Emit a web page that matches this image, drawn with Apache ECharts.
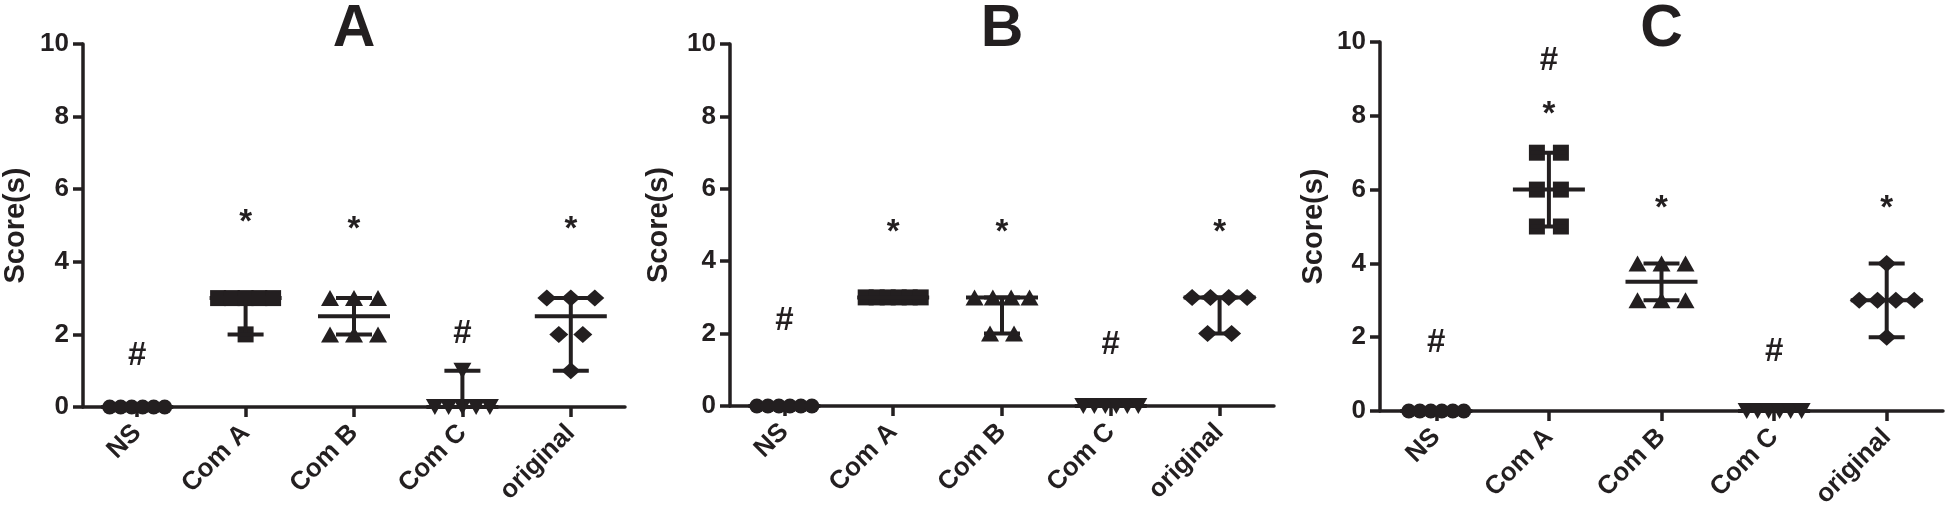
<!DOCTYPE html>
<html><head><meta charset="utf-8">
<script src="https://cdn.jsdelivr.net/npm/echarts@6/dist/echarts.min.js"></script>
<style>html,body{margin:0;padding:0;background:#fff}#chart{width:1952px;height:516px}</style>
</head><body><div id="chart"></div>
<script>
// ---------- data ----------
const categories = ['NS', 'Com A', 'Com B', 'Com C', 'original'];
const panelTitles = ['A', 'B', 'C'];
const yTicks = [0, 2, 4, 6, 8, 10];
const yAxisTitle = 'Score(s)';

// Panel A (6 animals per group)
const A_NS = [0, 0, 0, 0, 0, 0];
const A_ComA = [3, 3, 3, 3, 3, 2];
const A_ComB = [3, 3, 3, 2, 2, 2];
const A_ComC = [1, 0, 0, 0, 0, 0];
const A_original = [3, 3, 3, 2, 2, 1];
// Panel B
const B_NS = [0, 0, 0, 0, 0, 0];
const B_ComA = [3, 3, 3, 3, 3, 3];
const B_ComB = [3, 3, 3, 3, 2, 2];
const B_ComC = [0, 0, 0, 0, 0, 0];
const B_original = [3, 3, 3, 3, 2, 2];
// Panel C
const C_NS = [0, 0, 0, 0, 0, 0];
const C_ComA = [7, 7, 6, 6, 5, 5];
const C_ComB = [4, 4, 4, 3, 3, 3];
const C_ComC = [0, 0, 0, 0, 0, 0];
const C_original = [4, 3, 3, 3, 3, 2];

// significance marks: [category, y position, text]
const A_marks = [['NS', 1.4, '#'], ['Com A', 5.3, '*'], ['Com B', 5.1, '*'], ['Com C', 2.0, '#'], ['original', 5.1, '*']];
const B_marks = [['NS', 2.35, '#'], ['Com A', 5.0, '*'], ['Com B', 5.0, '*'], ['Com C', 1.7, '#'], ['original', 5.0, '*']];
const C_marks = [['NS', 1.85, '#'], ['Com A', 9.5, '#'], ['Com A', 8.25, '*'], ['Com B', 5.7, '*'], ['Com C', 1.6, '#'], ['original', 5.7, '*']];

// ---------- layout / style ----------
const INK = '#231f20';
const FONT = "'Liberation Sans', Arial, Helvetica, sans-serif";
const panels = [
  { title: panelTitles[0], groups: [A_NS, A_ComA, A_ComB, A_ComC, A_original], marks: A_marks,
    grid: { left: 83, right: 1952 - 625, top: 44, bottom: 516 - 407 }, nameGap: 53 },
  { title: panelTitles[1], groups: [B_NS, B_ComA, B_ComB, B_ComC, B_original], marks: B_marks,
    grid: { left: 730, right: 1952 - 1274, top: 44, bottom: 516 - 406 }, nameGap: 57 },
  { title: panelTitles[2], groups: [C_NS, C_ComA, C_ComB, C_ComC, C_original], marks: C_marks,
    grid: { left: 1380, right: 1952 - 1943, top: 42, bottom: 516 - 411 }, nameGap: 52 }
];
const symbolStyles = [
  { symbol: 'circle', size: [15, 15], rotate: 0 },
  { symbol: 'rect', size: [16, 16], rotate: 0 },
  { symbol: 'triangle', size: [18, 16], rotate: 0 },
  { symbol: 'triangle', size: [18, 16], rotate: 180 },
  { symbol: 'diamond', size: [19, 17], rotate: 0 }
];
const MAX_STEP = 24, MAX_SPAN = 55;

// spread tied values side by side (dot-plot layout)
function swarmOffsets(values) {
  const counts = {}, seen = {};
  values.forEach(v => counts[v] = (counts[v] || 0) + 1);
  return values.map(v => {
    const n = counts[v];
    const i = seen[v] = (seen[v] === undefined ? 0 : seen[v] + 1);
    const d = n > 1 ? Math.min(MAX_STEP, MAX_SPAN / (n - 1)) : 0;
    return (i - (n - 1) / 2) * d;
  });
}
function medianRange(vals) {
  const s = [...vals].sort((a, b) => a - b), n = s.length;
  const med = n % 2 ? s[(n - 1) / 2] : (s[n / 2 - 1] + s[n / 2]) / 2;
  return [med, s[0], s[n - 1]];
}

const option = {
  backgroundColor: '#fff',
  animation: false,
  title: [], grid: [], xAxis: [], yAxis: [], series: []
};

panels.forEach((p, pi) => {
  const g = p.grid;
  const cx = g.left + (1952 - g.right - g.left) / 2;
  option.title.push({
    text: p.title, left: cx, top: 0, textAlign: 'center', padding: 0,
    textStyle: { fontFamily: FONT, fontWeight: 'bold', fontSize: 59, color: INK }
  });
  option.grid.push(Object.assign({ containLabel: false }, g));
  option.xAxis.push({
    type: 'category', gridIndex: pi, data: categories, boundaryGap: true,
    axisLine: { show: true, lineStyle: { color: INK, width: 3.5 } },
    axisTick: { show: true, alignWithLabel: true, length: 10, lineStyle: { color: INK, width: 3.5 } },
    axisLabel: { rotate: 45, margin: 22, fontFamily: FONT, fontWeight: 'bold', fontSize: 26, color: INK, interval: 0 },
    splitLine: { show: false }
  });
  option.yAxis.push({
    type: 'value', gridIndex: pi, min: yTicks[0], max: yTicks[yTicks.length - 1], interval: yTicks[1] - yTicks[0],
    name: yAxisTitle, nameLocation: 'middle', nameGap: p.nameGap,
    nameTextStyle: { fontFamily: FONT, fontWeight: 'bold', fontSize: 29, color: INK },
    axisLine: { show: true, lineStyle: { color: INK, width: 3.5 } },
    axisTick: { show: true, length: 10, lineStyle: { color: INK, width: 3.5 } },
    axisLabel: { margin: 14, fontFamily: FONT, fontWeight: 'bold', fontSize: 26, color: INK },
    splitLine: { show: false }
  });

  // points
  p.groups.forEach((vals, ci) => {
    const st = symbolStyles[ci];
    const offs = swarmOffsets(vals);
    option.series.push({
      type: 'scatter', xAxisIndex: pi, yAxisIndex: pi, z: 3,
      symbol: st.symbol, symbolSize: st.size, symbolRotate: st.rotate,
      itemStyle: { color: INK, opacity: 1 },
      emphasis: { disabled: true },
      data: vals.map((v, k) => ({ value: [ci, v], symbolOffset: [offs[k], 0] }))
    });
  });

  // median with range
  option.series.push({
    type: 'custom', xAxisIndex: pi, yAxisIndex: pi, z: 4,
    data: p.groups.map((vals, ci) => [ci].concat(medianRange(vals))),
    encode: { x: 0, y: [1, 2, 3] },
    renderItem: (params, api) => {
      const c = api.value(0);
      const pm = api.coord([c, api.value(1)]);
      const pl = api.coord([c, api.value(2)]);
      const ph = api.coord([c, api.value(3)]);
      const x = pm[0];
      const ls = { stroke: INK, lineWidth: 4 };
      return { type: 'group', children: [
        { type: 'line', shape: { x1: x, y1: pl[1], x2: x, y2: ph[1] }, style: ls },
        { type: 'line', shape: { x1: x - 18, y1: pl[1], x2: x + 18, y2: pl[1] }, style: ls },
        { type: 'line', shape: { x1: x - 18, y1: ph[1], x2: x + 18, y2: ph[1] }, style: ls },
        { type: 'line', shape: { x1: x - 36, y1: pm[1], x2: x + 36, y2: pm[1] }, style: ls }
      ]};
    }
  });

  // significance marks
  const marks = p.marks;
  option.series.push({
    type: 'custom', xAxisIndex: pi, yAxisIndex: pi, z: 5,
    data: marks.map(m => [categories.indexOf(m[0]), m[1]]),
    renderItem: (params, api) => {
      const pt = api.coord([api.value(0), api.value(1)]);
      const txt = marks[params.dataIndex][2];
      const shift = txt === '*' ? 8 : 0;
      return { type: 'text', x: pt[0], y: pt[1] + shift,
        style: { text: txt, fill: INK, fontSize: 33, fontWeight: 'bold', fontFamily: FONT,
                 textAlign: 'center', textVerticalAlign: 'middle', align: 'center', verticalAlign: 'middle' } };
    }
  });
});

const chart = echarts.init(document.getElementById('chart'), null, { renderer: 'canvas' });
chart.setOption(option);
</script>
</body></html>
